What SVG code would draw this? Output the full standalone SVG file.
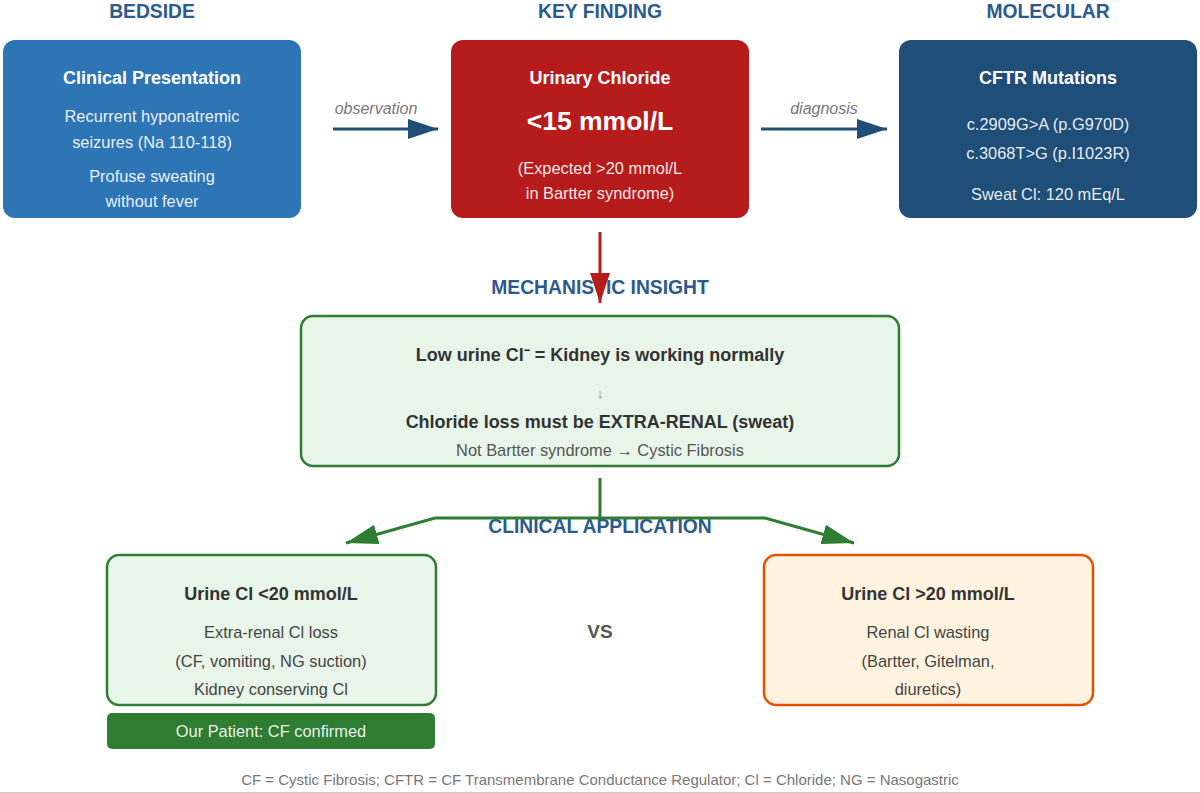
<svg xmlns="http://www.w3.org/2000/svg" width="1200" height="793" viewBox="0 0 1200 793">
<defs>
<style>
text{font-family:"Liberation Sans",Arial,sans-serif;text-anchor:middle}
.hdr{font-size:19.3px;font-weight:bold;fill:#2B5A8C}
.ttl{font-size:18px;font-weight:bold;fill:#fff}
.wb{font-size:16.4px;fill:#fff;fill-opacity:0.92}
.dt{font-size:18px;font-weight:bold;fill:#333}
.db{font-size:16.4px;fill:#444}
.lbl{font-size:16px;font-style:italic;fill:#777}
.gbox{fill:#E8F5E9;stroke:#2E7D32;stroke-width:2.5}
</style>
<marker id="ab" markerUnits="userSpaceOnUse" markerWidth="30" markerHeight="20" refX="30" refY="10" orient="auto"><path d="M0,0 L30,10 L0,20 Z" fill="#1F4E79"/></marker>
<marker id="ar" markerUnits="userSpaceOnUse" markerWidth="30" markerHeight="20" refX="30" refY="10" orient="auto"><path d="M0,0 L30,10 L0,20 Z" fill="#B71C1C"/></marker>
<marker id="ag" markerUnits="userSpaceOnUse" markerWidth="32" markerHeight="20" refX="32" refY="10" orient="auto"><path d="M0,0 L32,10 L0,20 Z" fill="#2E7D32"/></marker>
</defs>
<rect width="1200" height="793" fill="#fff"/>

<g id="headers">
<text class="hdr" x="152" y="18">BEDSIDE</text>
<text class="hdr" x="600" y="18">KEY FINDING</text>
<text class="hdr" x="1048" y="18">MOLECULAR</text>
<text class="hdr" x="600" y="294">MECHANISTIC INSIGHT</text>
<text class="hdr" x="600" y="533">CLINICAL APPLICATION</text>
</g>

<g id="clinical-presentation">
<rect x="3" y="40" width="298" height="178" rx="12" fill="#2E75B6"/>
<text class="ttl" x="152" y="84">Clinical Presentation</text>
<text class="wb" x="152" y="122">Recurrent hyponatremic</text>
<text class="wb" x="152" y="148">seizures (Na 110-118)</text>
<text class="wb" x="152" y="182">Profuse sweating</text>
<text class="wb" x="152" y="207">without fever</text>
</g>

<g id="urinary-chloride">
<rect x="451" y="40" width="298" height="178" rx="12" fill="#B71C1C"/>
<text class="ttl" x="600" y="84">Urinary Chloride</text>
<text x="600" y="130" style="font-size:26.5px;font-weight:bold;fill:#fff">&lt;15 mmol/L</text>
<text class="wb" x="600" y="174">(Expected &gt;20 mmol/L</text>
<text class="wb" x="600" y="199">in Bartter syndrome)</text>
</g>

<g id="cftr-mutations">
<rect x="899" y="40" width="298" height="178" rx="12" fill="#1F4E79"/>
<text class="ttl" x="1048" y="84">CFTR Mutations</text>
<text class="wb" x="1048" y="130">c.2909G&gt;A (p.G970D)</text>
<text class="wb" x="1048" y="159">c.3068T&gt;G (p.I1023R)</text>
<text class="wb" x="1048" y="200">Sweat Cl: 120 mEq/L</text>
</g>

<g id="mechanistic-insight">
<rect class="gbox" x="301" y="316" width="598" height="150" rx="12"/>
<text class="dt" x="600" y="361">Low urine Cl⁻ = Kidney is working normally</text>
<text x="600" y="398" style="font-size:13px;fill:#777">↓</text>
<text class="dt" x="600" y="428">Chloride loss must be EXTRA-RENAL (sweat)</text>
<text x="600" y="456" style="font-size:16.4px;fill:#555">Not Bartter syndrome → Cystic Fibrosis</text>
</g>

<g id="urine-low">
<rect class="gbox" x="107" y="555" width="329" height="150" rx="12"/>
<text class="dt" x="271" y="600">Urine Cl &lt;20 mmol/L</text>
<text class="db" x="271" y="638">Extra-renal Cl loss</text>
<text class="db" x="271" y="667">(CF, vomiting, NG suction)</text>
<text class="db" x="271" y="695">Kidney conserving Cl</text>
</g>

<g id="our-patient">
<rect x="107" y="713" width="328" height="36" rx="5" fill="#2E7D32"/>
<text x="271" y="737" style="font-size:16.4px;fill:#fff;fill-opacity:0.92">Our Patient: CF confirmed</text>
</g>

<g id="vs">
<text x="600" y="638" style="font-size:19px;font-weight:bold;fill:#555">VS</text>
</g>

<g id="urine-high">
<rect x="764" y="555" width="329" height="150" rx="12" fill="#FFF3E0" stroke="#E65100" stroke-width="2.5"/>
<text class="dt" x="928" y="600">Urine Cl &gt;20 mmol/L</text>
<text class="db" x="928" y="638">Renal Cl wasting</text>
<text class="db" x="928" y="667">(Bartter, Gitelman,</text>
<text class="db" x="928" y="695">diuretics)</text>
</g>

<g id="connectors" fill="none">
<line x1="333" y1="129" x2="438" y2="129" stroke="#1F4E79" stroke-width="3" marker-end="url(#ab)"/>
<text class="lbl" x="376" y="114">observation</text>
<line x1="761" y1="129" x2="887" y2="129" stroke="#1F4E79" stroke-width="3" marker-end="url(#ab)"/>
<text class="lbl" x="824" y="114">diagnosis</text>
<line x1="600" y1="232" x2="600" y2="303" stroke="#B71C1C" stroke-width="3" marker-end="url(#ar)"/>
<line x1="600" y1="478" x2="600" y2="518" stroke="#2E7D32" stroke-width="3"/>
<polyline points="600,518 435,518 346,543" stroke="#2E7D32" stroke-width="3" marker-end="url(#ag)"/>
<polyline points="600,518 765,518 854,543" stroke="#2E7D32" stroke-width="3" marker-end="url(#ag)"/>
</g>

<g id="footer">
<text x="600" y="785" style="font-size:15px;fill:#777">CF = Cystic Fibrosis; CFTR = CF Transmembrane Conductance Regulator; Cl = Chloride; NG = Nasogastric</text>
<line x1="0" y1="792.5" x2="1200" y2="792.5" stroke="#ccc" stroke-width="1"/>
</g>
</svg>
